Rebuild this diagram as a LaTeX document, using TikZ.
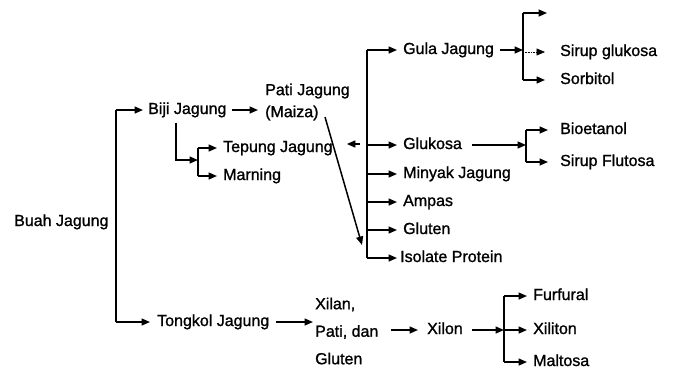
\documentclass[tikz,border=0pt]{standalone}
\usepackage{fontspec}
\setmainfont[FakeBold=1.2]{Liberation Sans}
\usetikzlibrary{arrows.meta,calc}
\begin{document}
\begin{tikzpicture}[x=1pt,y=-1pt,
  lbl/.style={anchor=west,inner xsep=5pt,inner ysep=0pt,
    font=\fontsize{16}{22}\selectfont,text height=11.5pt,text depth=3.5pt},
  multi/.style={anchor=west,inner xsep=5pt,inner ysep=0pt,align=left},
  link/.style={line width=1.5pt},
  arr/.style={link,-{Triangle[length=8.5pt,width=7pt]}},
  faint/.style={arr,line width=0.6pt,densely dotted}
]
\useasboundingbox (0,0) rectangle (674,370);

% ---- labels ----
\node[lbl] (buah) at (9,222) {Buah Jagung};
\node[lbl] (biji) at (143,110) {Biji Jagung};
\node[multi,inner xsep=7pt,font=\fontsize{16}{22}\selectfont] (pati) at (258,102) {Pati Jagung\\(Maiza)};
\node[lbl,inner xsep=6pt] (tepung) at (217,148) {Tepung Jagung};
\node[lbl,inner xsep=6pt] (marning) at (217,176) {Marning};

\node[lbl,inner xsep=6pt] (gula) at (397,50) {Gula Jagung};
\node[lbl,inner xsep=6pt] (glukosa) at (397,145) {Glukosa};
\node[lbl,inner xsep=6pt] (minyak) at (397,174) {Minyak Jagung};
\node[lbl,inner xsep=6pt] (ampas) at (397,202) {Ampas};
\node[lbl,inner xsep=6pt] (gluten) at (397,230) {Gluten};
\node[lbl,inner xsep=3pt] (isolate) at (397,258) {Isolate Protein};

\coordinate (gtop) at (547,13);
\node[lbl,inner xsep=15pt] (sirup) at (545,52) {Sirup glukosa};
\node[lbl,inner xsep=15pt] (sorbitol) at (545,80) {Sorbitol};
\node[lbl,inner xsep=12pt] (bioetanol) at (548,130) {Bioetanol};
\node[lbl,inner xsep=12pt] (flutosa) at (548,162) {Sirup Flutosa};

\node[lbl,inner xsep=7pt] (tongkol) at (150,322) {Tongkol Jagung};
\node[multi,inner xsep=2pt,font=\fontsize{16}{27.5}\selectfont] (xilan) at (313,331) {Xilan,\\Pati, dan\\Gluten};
\node[lbl,inner xsep=9pt] (xilon) at (418,330) {Xilon};
\node[lbl,inner xsep=6pt] (furfural) at (527,296) {Furfural};
\node[lbl,inner xsep=6pt] (xiliton) at (527,330) {Xiliton};
\node[lbl,inner xsep=6pt] (maltosa) at (527,362) {Maltosa};

% ---- junction points ----
\coordinate (trunkT) at (116,110);
\coordinate (trunkB) at (116,322);
\coordinate (bdown) at (176,160);
\coordinate (tbr) at (198,160);
\coordinate (pd) at (325,117);
\coordinate (pdEnd) at (362,245);
\coordinate (tl) at (360,144);
\coordinate (mt) at (367,50);
\coordinate (gb) at (523,50);
\coordinate (kb) at (526,145);
\coordinate (xb) at (504,330);

% ---- corn fruit: seeds and cob ----
\draw[link] (trunkT) -- (trunkB);
\draw[arr] (trunkT) -- (biji.west);
\draw[arr] (trunkB) -- (tongkol.west);

% ---- seeds ----
\draw[arr] (biji.east) -- (biji.east -| pati.west);
\draw[arr] ($(biji.south -| bdown)+(0,5)$) -- (bdown) -- (tbr);
\draw[link] (tbr |- tepung) -- (tbr |- marning);
\draw[arr] (tbr |- tepung) -- (tepung.west);
\draw[arr] (tbr |- marning) -- (marning.west);
\draw[arr] (pd) -- (pdEnd);
\draw[arr,shorten >=8pt] (tl) -- (tl -| tepung.east);

% ---- starch products ----
\draw[link] (mt |- gula) -- (mt |- isolate);
\foreach \n in {gula,glukosa,minyak,ampas,gluten,isolate}
  \draw[arr] (mt |- \n) -- (\n.west);

\draw[arr] (gula.east) -- (gb);
\draw[link] (gb |- gtop) -- (gb |- sorbitol);
\draw[arr] (gb |- gtop) -- (gtop);
\draw[faint] (gb |- sirup) -- (sirup.west);
\draw[arr] (gb |- sorbitol) -- (sorbitol.west);

\draw[arr,shorten <=4pt] (glukosa.east) -- (kb);
\draw[link] (kb |- bioetanol) -- (kb |- flutosa);
\draw[arr] (kb |- bioetanol) -- (bioetanol.west);
\draw[arr] (kb |- flutosa) -- (flutosa.west);

% ---- cob ----
\draw[arr] (tongkol.east) -- (tongkol.east -| xilan.west);
\draw[arr,shorten <=10pt] (xilan.east |- xilon) -- (xilon.west);
\draw[arr] (xilon.east) -- (xb);
\draw[link] (xb |- furfural) -- (xb |- maltosa);
\draw[arr] (xb |- furfural) -- (furfural.west);
\draw[arr] (xb) -- (xiliton.west);
\draw[arr] (xb |- maltosa) -- (maltosa.west);
\end{tikzpicture}
\end{document}
